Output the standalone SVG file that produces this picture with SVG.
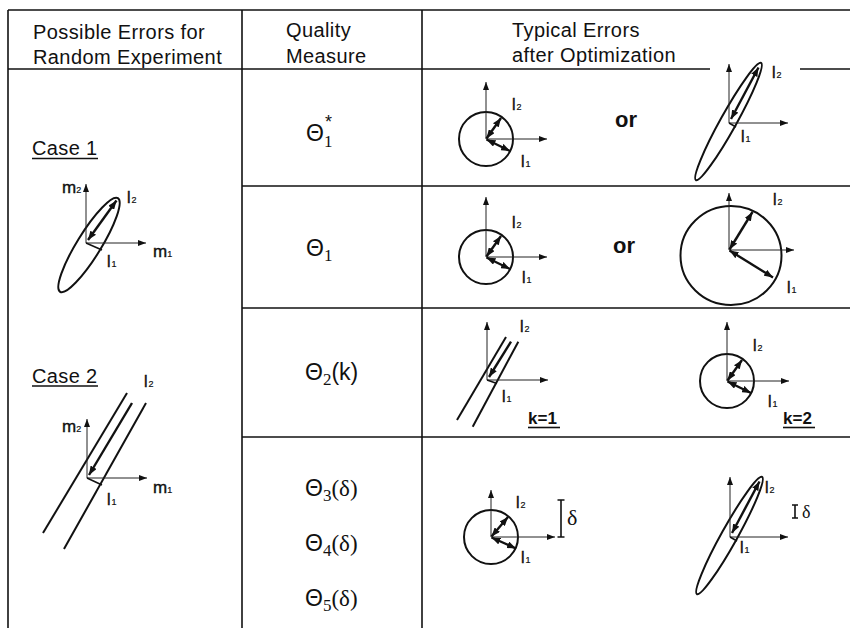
<svg xmlns="http://www.w3.org/2000/svg" width="850" height="628" viewBox="0 0 850 628">
<style>
.grid{stroke:#111;stroke-width:1.6;fill:none}
.hd{font-family:"Liberation Sans",Arial,sans-serif;font-size:20px;letter-spacing:0.4px;fill:#111}
.th{font-family:"Liberation Sans",Arial,sans-serif;font-size:23px;fill:#111}
.sub{font-family:"Liberation Serif","Times New Roman",serif;font-size:17px}
.ser{font-family:"Liberation Serif","Times New Roman",serif}
.lb{font-family:"Liberation Sans",Arial,sans-serif;font-size:16px;fill:#111;stroke:#111;stroke-width:0.4}
.sm{font-size:9px;stroke-width:0.2}
.or{font-family:"Liberation Sans",Arial,sans-serif;font-size:22px;font-weight:bold;fill:#111}
.k{font-family:"Liberation Sans",Arial,sans-serif;font-size:17px;font-weight:bold;fill:#111}
.ax{stroke:#222;stroke-width:1;fill:none;marker-end:url(#ax)}
.sh{stroke:#111;stroke-width:2;fill:none}
.ar{stroke:#111;stroke-width:2.4;fill:none;marker-start:url(#ah);marker-end:url(#ah)}
.ar1{stroke:#111;stroke-width:2.4;fill:none;marker-end:url(#ah)}
.seg{stroke:#111;stroke-width:1.6;fill:none}
.dl{font-family:"Liberation Serif","Times New Roman",serif;fill:#111}
</style>
<defs>
<marker id="ax" viewBox="0 0 8 6" refX="8" refY="3" markerWidth="8" markerHeight="6" markerUnits="userSpaceOnUse" orient="auto"><path d="M0,0 L8,3 L0,6 z" fill="#111"/></marker>
<marker id="ah" viewBox="0 0 9 7" refX="9" refY="3.5" markerWidth="9" markerHeight="7" markerUnits="userSpaceOnUse" orient="auto-start-reverse"><path d="M0,0 L9,3.5 L0,7 z" fill="#111"/></marker>
</defs>
<rect width="850" height="628" fill="#fff"/>

<g id="table">
<line class="grid" x1="8" y1="10" x2="850" y2="10"/>
<line class="grid" x1="8" y1="69" x2="710" y2="69"/>
<line class="grid" x1="800" y1="69" x2="850" y2="69"/>
<line class="grid" x1="242" y1="186" x2="850" y2="186"/>
<line class="grid" x1="242" y1="308" x2="850" y2="308"/>
<line class="grid" x1="242" y1="437" x2="850" y2="437"/>
<line class="grid" x1="8" y1="10" x2="8" y2="628"/>
<line class="grid" x1="242" y1="10" x2="242" y2="628"/>
<line class="grid" x1="422" y1="10" x2="422" y2="628"/>
</g>

<g id="header">
<text class="hd" x="33" y="39">Possible Errors for</text>
<text class="hd" x="33" y="64">Random Experiment</text>
<text class="hd" x="286" y="37">Quality</text>
<text class="hd" x="286" y="63">Measure</text>
<text class="hd" x="512" y="37">Typical Errors</text>
<text class="hd" x="512" y="62">after Optimization</text>
</g>

<g id="case1">
<text class="hd" x="32" y="155">Case</text><text class="hd" x="86" y="155">1</text>
<line class="seg" x1="32" y1="158.5" x2="98" y2="158.5"/>
<ellipse class="sh" cx="89" cy="245" rx="55" ry="12" transform="rotate(-58.3 89 245)"/>
<line class="ax" x1="86" y1="243" x2="86" y2="184"/>
<line class="ax" x1="86" y1="243" x2="146" y2="243"/>
<line class="ar" x1="88" y1="240" x2="116.5" y2="200.5"/>
<line class="seg" x1="86" y1="243" x2="102" y2="250"/>
<text class="lb" x="62" y="193" style="font-size:17px">m<tspan class="sm">2</tspan></text>
<text class="lb" x="153" y="257" style="font-size:17px">m<tspan class="sm">1</tspan></text>
<text class="lb" x="127" y="203">l<tspan class="sm" dx="1">2</tspan></text>
<text class="lb" x="107" y="267">l<tspan class="sm" dx="1">1</tspan></text>
</g>

<g id="case2">
<text class="hd" x="32" y="383">Case</text><text class="hd" x="86" y="383">2</text>
<line class="seg" x1="32" y1="386" x2="98" y2="386"/>
<line class="sh" x1="127" y1="393" x2="43" y2="533"/>
<line class="sh" x1="146" y1="403" x2="64" y2="549"/>
<line class="ax" x1="87" y1="478" x2="87" y2="419"/>
<line class="ax" x1="87" y1="478" x2="147" y2="478"/>
<line class="ar1" x1="132" y1="403" x2="89" y2="475"/>
<line class="seg" x1="87" y1="478" x2="102" y2="485"/>
<text class="lb" x="62" y="432" style="font-size:17px">m<tspan class="sm">2</tspan></text>
<text class="lb" x="153" y="493" style="font-size:17px">m<tspan class="sm">1</tspan></text>
<text class="lb" x="144" y="387">l<tspan class="sm" dx="1">2</tspan></text>
<text class="lb" x="107" y="505">l<tspan class="sm" dx="1">1</tspan></text>
</g>

<g id="measures">
<text class="th" x="306" y="141">Θ<tspan class="sub" dy="6">1</tspan></text>
<text class="th" x="325" y="128" style="font-size:18px">*</text>
<text class="th" x="306" y="256">Θ<tspan class="sub" dy="5">1</tspan></text>
<text class="th" x="305" y="380">Θ<tspan class="sub" dy="5">2</tspan><tspan dy="-5">(k)</tspan></text>
<text class="th" x="305" y="496">Θ<tspan class="sub" dy="5">3</tspan><tspan class="ser" dy="-5">(δ)</tspan></text>
<text class="th" x="305" y="551">Θ<tspan class="sub" dy="5">4</tspan><tspan class="ser" dy="-5">(δ)</tspan></text>
<text class="th" x="305" y="606">Θ<tspan class="sub" dy="5">5</tspan><tspan class="ser" dy="-5">(δ)</tspan></text>
</g>

<g id="row1-circle">
<circle class="sh" cx="486" cy="139" r="27"/>
<line class="ax" x1="486" y1="139" x2="486" y2="82"/>
<line class="ax" x1="486" y1="139" x2="547" y2="139"/>
<line class="ar" x1="486.5" y1="138.5" x2="501" y2="118"/>
<line class="ar" x1="486.5" y1="139.5" x2="510" y2="151"/>
<text class="lb" x="512" y="110">l<tspan class="sm" dx="1">2</tspan></text>
<text class="lb" x="521" y="167">l<tspan class="sm" dx="1">1</tspan></text>
</g>
<text class="or" x="615" y="127">or</text>
<g id="row1-ellipse">
<ellipse class="sh" cx="728.5" cy="121.5" rx="67" ry="8" transform="rotate(-60.9 728.5 121.5)"/>
<line class="ax" x1="729" y1="123" x2="729" y2="64"/>
<line class="ax" x1="729" y1="123" x2="788" y2="123"/>
<line class="ar" x1="758.5" y1="67.5" x2="731" y2="119"/>
<line class="seg" x1="729" y1="123" x2="736" y2="127"/>
<text class="lb" x="772" y="78">l<tspan class="sm" dx="1">2</tspan></text>
<text class="lb" x="741" y="142">l<tspan class="sm" dx="1">1</tspan></text>
</g>

<g id="row2-circle">
<circle class="sh" cx="486" cy="257" r="27"/>
<line class="ax" x1="486" y1="257" x2="486" y2="197"/>
<line class="ax" x1="486" y1="257" x2="547" y2="257"/>
<line class="ar" x1="486.5" y1="256.5" x2="501" y2="236"/>
<line class="ar" x1="486.5" y1="257.5" x2="510" y2="269"/>
<text class="lb" x="512" y="228">l<tspan class="sm" dx="1">2</tspan></text>
<text class="lb" x="522" y="283">l<tspan class="sm" dx="1">1</tspan></text>
</g>
<text class="or" x="613" y="253">or</text>
<g id="row2-bigcircle">
<ellipse class="sh" cx="731" cy="255.5" rx="50.5" ry="49.5"/>
<line class="ax" x1="729" y1="250" x2="729" y2="193"/>
<line class="ax" x1="729" y1="250" x2="794" y2="250"/>
<line class="ar" x1="729.5" y1="249.5" x2="752.5" y2="212"/>
<line class="ar" x1="729.5" y1="250.5" x2="773" y2="277.5"/>
<text class="lb" x="773" y="205">l<tspan class="sm" dx="1">2</tspan></text>
<text class="lb" x="787" y="293">l<tspan class="sm" dx="1">1</tspan></text>
</g>

<g id="row3-k1">
<line class="sh" x1="506" y1="337" x2="457" y2="420"/>
<line class="sh" x1="518.3" y1="341.7" x2="472.7" y2="426.7"/>
<line class="ax" x1="487" y1="380" x2="487" y2="322"/>
<line class="ax" x1="487" y1="380" x2="548" y2="380"/>
<line class="ar1" x1="511" y1="341.7" x2="489" y2="377"/>
<line class="seg" x1="487" y1="380" x2="497" y2="383.5"/>
<text class="lb" x="520" y="332">l<tspan class="sm" dx="1">2</tspan></text>
<text class="lb" x="502" y="402">l<tspan class="sm" dx="1">1</tspan></text>
<text class="k" x="528" y="424">k=1</text>
<line class="seg" x1="528" y1="427.5" x2="560" y2="427.5"/>
</g>
<g id="row3-k2">
<circle class="sh" cx="727" cy="381" r="27"/>
<line class="ax" x1="727" y1="381" x2="727" y2="322"/>
<line class="ax" x1="727" y1="381" x2="789" y2="381"/>
<line class="ar" x1="727.5" y1="380.5" x2="742" y2="360"/>
<line class="ar" x1="727.5" y1="381.5" x2="751" y2="393"/>
<text class="lb" x="753" y="351">l<tspan class="sm" dx="1">2</tspan></text>
<text class="lb" x="768" y="407">l<tspan class="sm" dx="1">1</tspan></text>
<text class="k" x="783" y="424">k=2</text>
<line class="seg" x1="783" y1="427.5" x2="815" y2="427.5"/>
</g>

<g id="row4-circle">
<circle class="sh" cx="491" cy="537" r="27"/>
<line class="ax" x1="491" y1="537" x2="491" y2="490"/>
<line class="ax" x1="491" y1="537" x2="555" y2="537"/>
<line class="ar" x1="491.5" y1="536.5" x2="508" y2="517"/>
<line class="ar" x1="491.5" y1="537.5" x2="516" y2="548.5"/>
<text class="lb" x="516" y="508">l<tspan class="sm" dx="1">2</tspan></text>
<text class="lb" x="521" y="563">l<tspan class="sm" dx="1">1</tspan></text>
<path class="seg" d="M561,500 V537 M557.5,500 H564.5 M557.5,537 H564.5"/>
<text class="dl" x="567" y="525" font-size="22">δ</text>
</g>
<g id="row4-ellipse">
<ellipse class="sh" cx="729.5" cy="535.5" rx="67" ry="8" transform="rotate(-60.9 729.5 535.5)"/>
<line class="ax" x1="730" y1="537" x2="730" y2="477"/>
<line class="ax" x1="730" y1="537" x2="788" y2="537"/>
<line class="ar" x1="759.5" y1="481.5" x2="732" y2="533"/>
<line class="seg" x1="730" y1="537" x2="737" y2="541"/>
<text class="lb" x="765" y="493">l<tspan class="sm" dx="1">2</tspan></text>
<text class="lb" x="740" y="553">l<tspan class="sm" dx="1">1</tspan></text>
<path class="seg" d="M795,505 V518 M792,505 H798 M792,518 H798"/>
<text class="dl" x="802" y="518" font-size="18">δ</text>
</g>
</svg>
